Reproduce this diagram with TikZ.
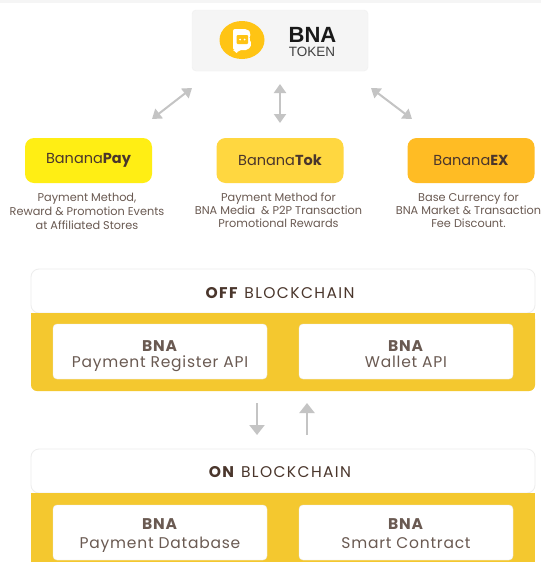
\documentclass[tikz,border=0pt]{standalone}
\usepackage{fontspec}
\setmainfont{Poppins}
\newfontfamily\heros{Liberation Sans}
\newfontfamily\wide[LetterSpace=5]{Poppins}
\newfontfamily\wider[LetterSpace=9]{Poppins}
\usetikzlibrary{arrows.meta,positioning}
\definecolor{txt}{HTML}{6A5A52}
\definecolor{txtd}{HTML}{4A362C}
\definecolor{band}{HTML}{F4C82F}
\definecolor{arr}{HTML}{C4C4C4}
\definecolor{logo}{HTML}{FFC414}
\definecolor{cpay}{HTML}{FFEE14}
\definecolor{ctok}{HTML}{FFD740}
\definecolor{cex}{HTML}{FFBC24}
\tikzset{
  x=1pt,y=-1pt,
  tokenbox/.style={draw=black!6,fill=black!4,rounded corners=4,minimum width=176,minimum height=61,inner sep=0},
  brand/.style={rounded corners=9,minimum width=127,minimum height=45,inner sep=0,text=txtd,font=\fontsize{14.5}{16}\selectfont},
  desc/.style={align=center,text=txt,font=\fontsize{11.3}{14}\selectfont,inner sep=0},
  desctight/.style={desc,font=\fontsize{11.3}{13}\selectfont},
  panel/.style={draw=black!7,fill=white,rounded corners=8,line width=.8},
  innerbox/.style={draw=black!8,fill=white,rounded corners=4,minimum width=214,minimum height=55,inner sep=0,align=center,text=txt},
  offfont/.style={font=\wide\fontsize{15.5}{16}\selectfont},
  onfont/.style={font=\wide\fontsize{15.5}{19}\selectfont},
  titletext/.style={text=txtd,font=\wider\fontsize{15.5}{17}\selectfont,inner sep=0},
  dbl/.style={draw=arr,line width=2,{Triangle[width=12,length=9]}-{Triangle[width=12,length=9]}},
  sgl/.style={draw=arr,line width=2.2,-{Triangle[width=15,length=10]}}
}
\begin{document}
\begin{tikzpicture}
\useasboundingbox (0,0) rectangle (541,562);
\fill[white] (0,0) rectangle (541,562);
\fill[black!4] (0,0) rectangle (541,3);
% token
\node[tokenbox] (token) at (280,40.5) {};
\fill[logo] (242,40) ellipse [x radius=22.5,y radius=19];
\fill[white,rounded corners=2] (233,29) -- (247,29) -- (251,33) -- (249,39) -- (252,44) -- (248,50) -- (239,50) -- (236,54) -- (235,50) -- (233,50) -- cycle;
\fill[logo,rounded corners=1] (236.5,35) rectangle (248,44);
\fill[white] (240,39.5) circle (1) (244.5,39.5) circle (1);
\node[inner sep=0,font=\heros\bfseries\fontsize{22}{22}\selectfont,text=black!90] (tokA) at (312.5,35) {BNA};
\node[inner sep=0,font=\heros\fontsize{13.5}{13.5}\selectfont,text=black!75] (tokB) at (312,52) {TOKEN};
% brands
\node[brand,fill=cpay] (pay) at (88.5,160.5) {Banana\textbf{Pay}};
\node[brand,fill=ctok] (tok) at (280,160.5) {Banana\textbf{Tok}};
\node[brand,fill=cex] (ex) at (471,160.5) {Banana\textbf{EX}};
\node[desc] (payd) at (87,211) {Payment Method,\\Reward \& Promotion Events\\at Affiliated Stores};
\node[desctight] (tokd) at (278.5,210) {Payment Method for\\BNA Media \ \& P2P Transaction\\Promotional Rewards};
\node[desctight] (exd) at (468.5,210) {Base Currency for\\BNA Market \& Transaction\\Fee Discount.};
% arrows
\coordinate (aL) at (192,88); \coordinate (bL) at (152,119);
\coordinate (aM) at (280,84); \coordinate (bM) at (280,123);
\coordinate (aR) at (371,88); \coordinate (bR) at (412,119);
\draw[dbl] (aL) -- (bL);
\draw[dbl] (aM) -- (bM);
\draw[dbl] (aR) -- (bR);
% off
\draw[panel] (31,313) -- (31,269) -- (535,269) -- (535,313) -- cycle;
\fill[band,rounded corners=6] (31,313) rectangle (535,391);
\fill[band] (31,313) rectangle (535,330);
\node[titletext] (offt) at (280,293) {\textbf{OFF} BLOCKCHAIN};
\node[innerbox,offfont] (reg) at (160,351.5) {\rule{0pt}{20pt}\textbf{BNA}\\Payment Register API\vphantom{p}};
\node[innerbox,offfont] (wal) at (406,351.5) {\rule{0pt}{20pt}\textbf{BNA}\\Wallet API\vphantom{p}};
% vertical arrows
\coordinate (dA) at (257,403); \coordinate (dB) at (257,435);
\coordinate (uA) at (307,435); \coordinate (uB) at (307,403);
\draw[sgl] (dA) -- (dB);
\draw[sgl] (uA) -- (uB);
% on
\draw[panel] (31,493) -- (31,449) -- (535,449) -- (535,493) -- cycle;
\fill[band] (31,493) rectangle (535,562);
\node[titletext] (ont) at (280,472) {\textbf{ON} BLOCKCHAIN};
\node[innerbox,onfont] (db) at (160,532.5) {\rule{0pt}{18pt}\textbf{BNA}\\Payment Database\vphantom{p}};
\node[innerbox,onfont] (sc) at (406,532.5) {\rule{0pt}{18pt}\textbf{BNA}\\Smart Contract\vphantom{p}};
\end{tikzpicture}
\end{document}
